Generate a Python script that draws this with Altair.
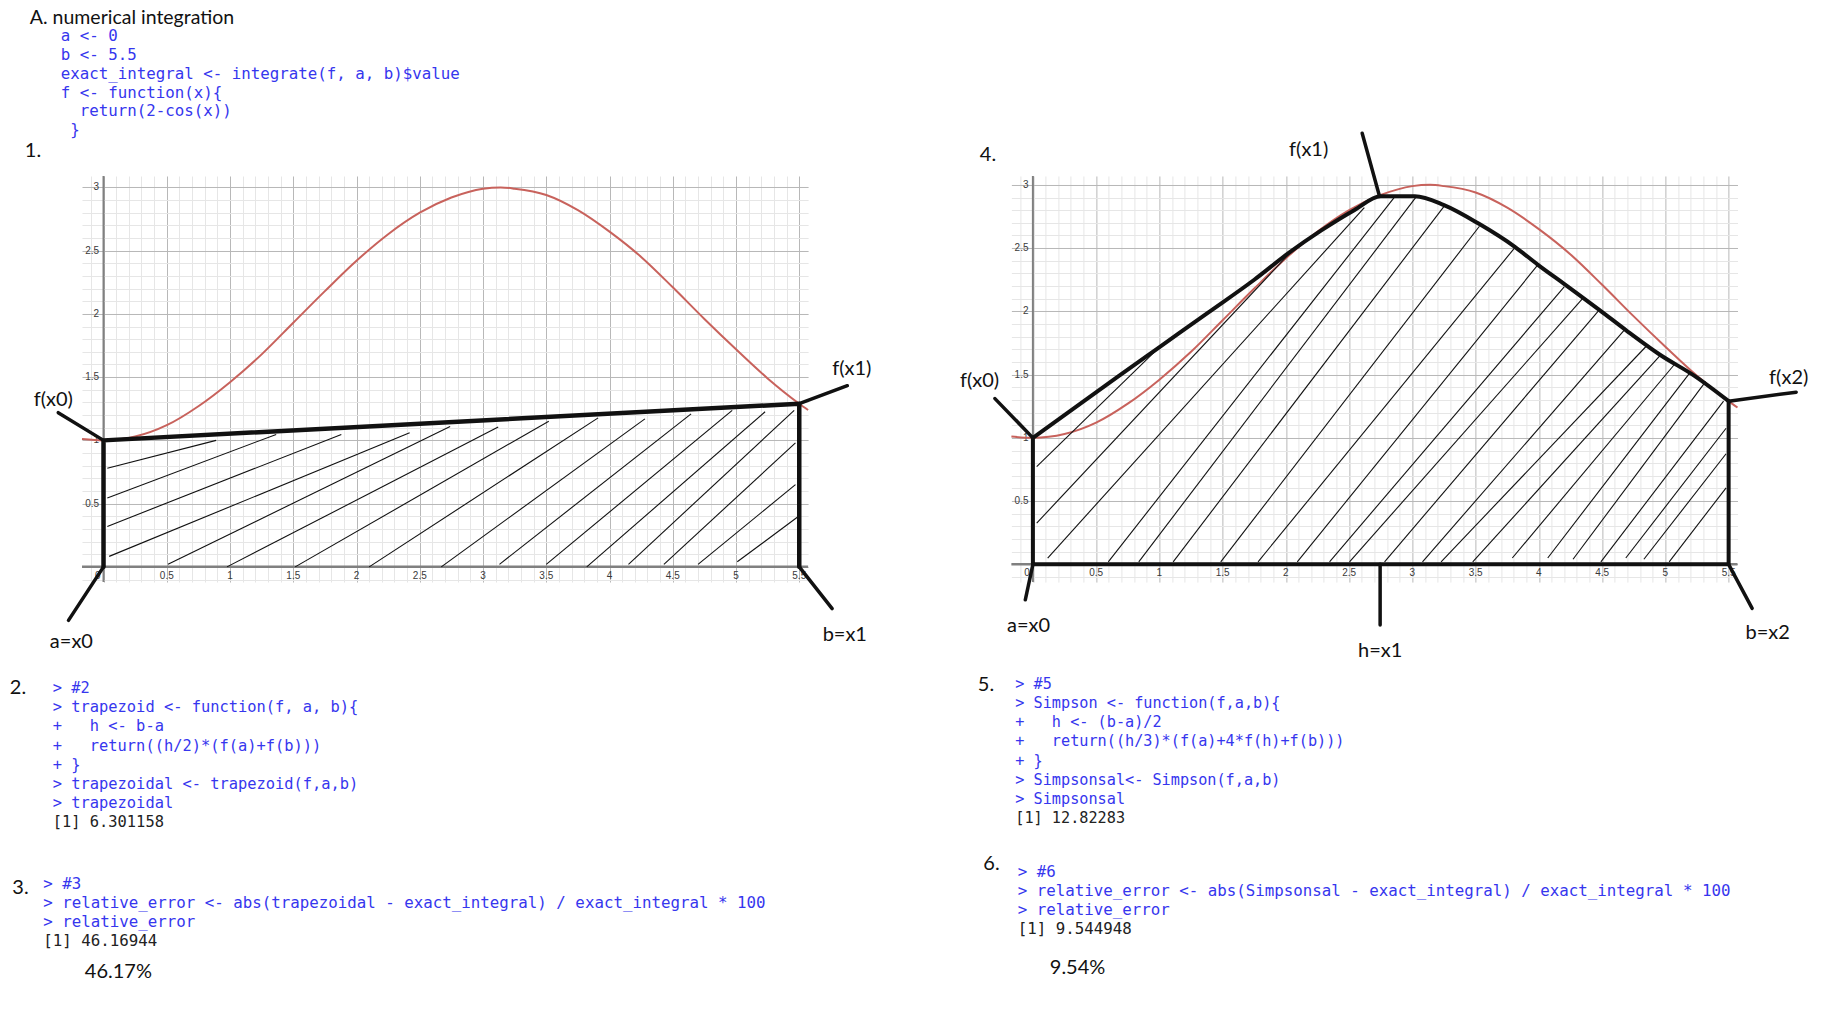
import altair as alt
import pandas as pd

# ---------------- values ----------------
# red curve, f(x) = 2 - cos(x)
F_X = [-0.17, 0.0, 0.25, 0.5, 0.75, 1.0, 1.25, 1.5, 1.75, 2.0, 2.25, 2.5, 2.75,
       3.0, 3.14, 3.25, 3.5, 3.75, 4.0, 4.25, 4.5, 4.75, 5.0, 5.25, 5.5, 5.57]
F_Y = [1.01, 1.0, 1.03, 1.12, 1.27, 1.46, 1.68, 1.93, 2.18, 2.42, 2.63, 2.80, 2.92,
       2.99, 3.0, 2.99, 2.94, 2.82, 2.65, 2.45, 2.21, 1.96, 1.72, 1.49, 1.29, 1.24]

# panel 1: trapezoid outline
TRAP_X = [0.0, 0.0, 5.5, 5.5]
TRAP_Y = [0.0, 1.0, 1.29, 0.0]

# panel 1: hand drawn hatch strokes
H1_X1 = [0.03, 0.03, 0.03, 0.045, 0.51, 0.976, 1.515, 2.1, 2.67, 3.13, 3.5, 3.82, 4.15, 4.43, 4.70, 5.01]
H1_Y1 = [0.78, 0.545, 0.32, 0.083, 0.02, 0.0, 0.0, 0.0, 0.0, 0.02, 0.02, 0.0, 0.02, 0.02, 0.02, 0.04]
H1_X2 = [0.89, 1.365, 1.88, 2.42, 2.74, 3.12, 3.52, 3.91, 4.28, 4.645, 4.97, 5.23, 5.46, 5.47, 5.47, 5.495]
H1_Y2 = [1.0, 1.047, 1.047, 1.06, 1.11, 1.105, 1.152, 1.178, 1.17, 1.21, 1.237, 1.226, 1.237, 0.98, 0.65, 0.40]

# panel 1: pointer strokes and their labels
P1_X1 = [0.0, 5.5, 0.0, 5.5]
P1_Y1 = [1.0, 1.29, 0.0, 0.0]
P1_X2 = [-0.358, 5.88, -0.277, 5.76]
P1_Y2 = [1.219, 1.432, -0.423, -0.33]
L1_TXT = ["f(x0)", "f(x1)", "a=x0", "b=x1"]
L1_X = [-0.397, 5.915, -0.254, 5.86]
L1_Y = [1.316, 1.565, -0.594, -0.536]

# panel 4: Simpson curve (hand drawn) and box
SIMP_X = [0.0, 0.68, 0.99, 1.385, 1.75, 2.02, 2.28, 2.54, 2.75, 3.02, 3.25, 3.53, 3.81,
          3.99, 4.21, 4.48, 4.69, 4.96, 5.23, 5.5]
SIMP_Y = [1.0, 1.49, 1.71, 1.99, 2.25, 2.46, 2.64, 2.80, 2.91, 2.91, 2.84, 2.69, 2.51,
          2.37, 2.21, 2.01, 1.85, 1.655, 1.49, 1.29]
BOX_X = [0.0, 0.0, 5.5, 5.5]
BOX_Y = [1.0, 0.0, 0.0, 1.29]

# panel 4: hatch strokes
H4_X1 = [0.03, 0.03, 0.117, 0.596, 0.837, 1.109, 1.485, 1.78, 2.09, 2.345, 2.503, 2.78,
         3.08, 3.227, 3.477, 3.79, 4.07, 4.27, 4.49, 4.687, 4.83, 5.03]
H4_Y1 = [0.773, 0.326, 0.05, 0.02, 0.02, 0.02, 0.02, 0.02, 0.02, 0.02, 0.02, 0.02,
         0.02, 0.02, 0.02, 0.05, 0.05, 0.04, 0.02, 0.05, 0.04, 0.02]
H4_X2 = [0.99, 2.04, 2.62, 2.86, 3.03, 3.25, 3.53, 3.81, 3.99, 4.2, 4.345, 4.476,
         4.687, 4.858, 4.963, 5.068, 5.19, 5.318, 5.46, 5.48, 5.48, 5.48]
H4_Y2 = [1.707, 2.47, 2.82, 2.905, 2.905, 2.83, 2.673, 2.504, 2.365, 2.194, 2.10, 2.01,
         1.865, 1.734, 1.655, 1.576, 1.51, 1.444, 1.29, 1.076, 0.874, 0.605]

# panel 4: pointers and labels
P4_X1 = [0.0, 2.74, 5.5, 0.0, 2.745, 5.5]
P4_Y1 = [1.0, 2.91, 1.29, 0.0, 0.0, 0.0]
P4_X2 = [-0.30, 2.603, 6.034, -0.06, 2.745, 5.686]
P4_Y2 = [1.31, 3.408, 1.361, -0.28, -0.48, -0.348]
L4_TXT = ["f(x0)", "f(x1)", "f(x2)", "a=x0", "h=x1", "b=x2"]
L4_X = [-0.422, 2.18, 5.975, -0.034, 2.746, 5.809]
L4_Y = [1.453, 3.279, 1.471, -0.485, -0.688, -0.540]

# graph paper ticks
XT = [0.5, 1, 1.5, 2, 2.5, 3, 3.5, 4, 4.5, 5, 5.5]
XT_LAB = ["0.5", "1", "1.5", "2", "2.5", "3", "3.5", "4", "4.5", "5", "5.5"]
YT = [0.5, 1, 1.5, 2, 2.5, 3]
YT_LAB = ["0.5", "1", "1.5", "2", "2.5", "3"]
GRID_X = [round(i / 10, 1) for i in range(-1, 56)]
GRID_Y = [round(i / 10, 1) for i in range(-1, 31)]

# text of the page
TITLE = "A. numerical integration"
CODE_A = ["a <- 0", "b <- 5.5", "exact_integral <- integrate(f, a, b)$value",
          "f <- function(x){", "  return(2-cos(x))", " }"]
CODE_2 = ["> #2", "> trapezoid <- function(f, a, b){", "+   h <- b-a",
          "+   return((h/2)*(f(a)+f(b)))", "+ }", "> trapezoidal <- trapezoid(f,a,b)",
          "> trapezoidal"]
OUT_2 = "[1] 6.301158"
CODE_3 = ["> #3", "> relative_error <- abs(trapezoidal - exact_integral) / exact_integral * 100",
          "> relative_error"]
OUT_3 = "[1] 46.16944"
CODE_5 = ["> #5", "> Simpson <- function(f,a,b){", "+   h <- (b-a)/2",
          "+   return((h/3)*(f(a)+4*f(h)+f(b)))", "+ }", "> Simpsonsal<- Simpson(f,a,b)",
          "> Simpsonsal"]
OUT_5 = "[1] 12.82283"
CODE_6 = ["> #6", "> relative_error <- abs(Simpsonsal - exact_integral) / exact_integral * 100",
          "> relative_error"]
OUT_6 = "[1] 9.544948"
PCT_3 = "46.17%"
PCT_6 = "9.54%"

# ---------------- layout ----------------
K = 126.5                      # pixels per unit on both axes
X_DOM = [-0.17, 5.57]
Y_DOM_1 = [-0.12, 3.09]
Y_DOM_4 = [-0.14, 3.07]
PW = round((X_DOM[1] - X_DOM[0]) * K, 2)
PH = round((Y_DOM_1[1] - Y_DOM_1[0]) * K, 2)
OX, OY = 81.2, 174.6           # page position of panel 1 plot area
GAP = 1009.7 - OX - PW

RED = "#c8625c"
INK = "#111111"
BLUE = "#3636ee"
OUT_INK = "#222222"
AXIS_GRAY = "#808080"
MONO = "DejaVu Sans Mono"
MONO_ADV = 0.602               # advance of one mono glyph, in em
SANS = "Lato"

GRID_COLOR = {"condition": {"test": "abs(datum.value * 2 - round(datum.value * 2)) < 0.01",
                            "value": "#b8b8b8"},
              "value": "#e6e6e6"}


def encoders(ydom):
    xs = alt.Scale(domain=X_DOM, nice=False, zero=False)
    ys = alt.Scale(domain=ydom, nice=False, zero=False)
    ax = alt.Axis(values=GRID_X, grid=True, gridColor=GRID_COLOR, gridWidth=1,
                  labels=False, ticks=False, domain=False, title="")
    ay = alt.Axis(values=GRID_Y, grid=True, gridColor=GRID_COLOR, gridWidth=1,
                  labels=False, ticks=False, domain=False, title="")

    def X(f):
        return alt.X(f, type="quantitative", scale=xs, axis=ax)

    def Y(f):
        return alt.Y(f, type="quantitative", scale=ys, axis=ay)
    return X, Y


def paper(X, Y, lab_y):
    one = pd.DataFrame({"v": [0.0]})
    yaxis = alt.Chart(one).mark_rule(color=AXIS_GRAY, strokeWidth=2).encode(x=X("v"))
    xaxis = alt.Chart(one).mark_rule(color=AXIS_GRAY, strokeWidth=2.5).encode(y=Y("v"))
    tick_style = dict(font="Liberation Sans", fontSize=10, color="#3a3a3a", baseline="middle")
    xlab = alt.Chart(pd.DataFrame({"v": XT, "t": XT_LAB})).transform_calculate(
        y=str(lab_y)).mark_text(align="center", **tick_style).encode(
        x=X("v"), y=Y("y"), text="t:N")
    zero = alt.Chart(pd.DataFrame({"v": [0.0], "t": ["0"]})).transform_calculate(
        y=str(lab_y)).mark_text(align="right", dx=-3, **tick_style).encode(
        x=X("v"), y=Y("y"), text="t:N")
    ylab = alt.Chart(pd.DataFrame({"v": YT, "t": YT_LAB})).transform_calculate(
        x="-0.035").mark_text(align="right", **tick_style).encode(
        x=X("x"), y=Y("v"), text="t:N")
    curve = alt.Chart(pd.DataFrame({"x": F_X, "y": F_Y})).mark_line(
        color=RED, strokeWidth=2, interpolate="monotone").encode(x=X("x"), y=Y("y"))
    return [yaxis, xaxis, xlab, zero, ylab, curve]


def segments(X, Y, x1, y1, x2, y2, width, cap="butt"):
    df = pd.DataFrame({"x1": x1, "y1": y1, "x2": x2, "y2": y2})
    return alt.Chart(df).mark_rule(color=INK, strokeWidth=width, strokeCap=cap).encode(
        x=X("x1"), y=Y("y1"), x2="x2", y2="y2")


def polyline(X, Y, xs, ys, width, interp="linear"):
    df = pd.DataFrame({"x": xs, "y": ys, "i": list(range(len(xs)))})
    return alt.Chart(df).mark_line(color=INK, strokeWidth=width, interpolate=interp,
                                   strokeJoin="round", strokeCap="round").encode(
        x=X("x"), y=Y("y"), order="i:Q")


def labels(X, Y, txt, xs, ys):
    df = pd.DataFrame({"t": txt, "x": xs, "y": ys})
    return alt.Chart(df).mark_text(font=SANS, fontSize=20, color=INK, align="center",
                                   baseline="middle").encode(
        x=X("x"), y=Y("y"), text="t:N")


def page_text(s, x, y, size, color, font=SANS):
    # one line of text, placed by its page position (left edge, baseline)
    return alt.Chart(pd.DataFrame({"t": [s.replace(" ", "\u00a0")]})).mark_text(
        align="left", baseline="alphabetic", font=font, fontSize=size, color=color).encode(
        x=alt.value(round(x - OX, 1)), y=alt.value(round(y - OY, 1)), text="t:N")


def code_block(lines, x, y, size, lh, out=None):
    marks = []
    for i, s in enumerate(lines):
        indent = len(s) - len(s.lstrip(" "))
        marks.append(page_text(s.lstrip(" "), x + indent * MONO_ADV * size, y + i * lh,
                               size, BLUE, font=MONO))
    if out is not None:
        marks.append(page_text(out, x, y + len(lines) * lh, size, OUT_INK, font=MONO))
    return marks


# ---------------- panel 1 : trapezoid ----------------
X1, Y1 = encoders(Y_DOM_1)
# a one pixel white corner pins the page's top-left at the body margin
corner = alt.Chart(pd.DataFrame({"a": [0]})).mark_rect(color="white").encode(
    x=alt.value(8 - OX), x2=alt.value(9 - OX), y=alt.value(8 - OY), y2=alt.value(9 - OY))

texts = [
    page_text(TITLE, 29, 23, 19.5, INK),
    *code_block(CODE_A, 60, 39.5, 15.8, 18.9),
    page_text("1.", 24, 156, 20, INK),
    page_text("4.", 979, 160, 20, INK),
    page_text("2.", 9, 693, 20, INK),
    *code_block(CODE_2, 52, 692, 15.4, 19.07, OUT_2),
    page_text("3.", 11.5, 893, 20, INK),
    *code_block(CODE_3, 42.5, 888, 15.8, 19.0, OUT_3),
    page_text(PCT_3, 84, 977, 20, INK),
    page_text("5.", 977, 689.5, 20, INK),
    *code_block(CODE_5, 1014.5, 688, 15.2, 19.04, OUT_5),
    page_text("6.", 982.5, 869, 20, INK),
    *code_block(CODE_6, 1017, 875.5, 15.8, 19.2, OUT_6),
    page_text(PCT_6, 1049, 973, 20, INK),
]

panel1 = alt.layer(
    corner,
    *paper(X1, Y1, -0.075),
    segments(X1, Y1, H1_X1, H1_Y1, H1_X2, H1_Y2, 1.1),
    polyline(X1, Y1, TRAP_X, TRAP_Y, 4.5),
    segments(X1, Y1, P1_X1, P1_Y1, P1_X2, P1_Y2, 3.5, cap="round"),
    labels(X1, Y1, L1_TXT, L1_X, L1_Y),
    *texts,
).properties(width=PW, height=PH)

# ---------------- panel 4 : Simpson ----------------
X4, Y4 = encoders(Y_DOM_4)
panel4 = alt.layer(
    *paper(X4, Y4, -0.065),
    segments(X4, Y4, H4_X1, H4_Y1, H4_X2, H4_Y2, 1.1),
    polyline(X4, Y4, BOX_X, BOX_Y, 4),
    polyline(X4, Y4, SIMP_X, SIMP_Y, 4, interp="monotone"),
    segments(X4, Y4, P4_X1, P4_Y1, P4_X2, P4_Y2, 3.5, cap="round"),
    labels(X4, Y4, L4_TXT, L4_X, L4_Y),
).properties(width=PW, height=PH)

chart = alt.hconcat(panel1, panel4, spacing=GAP, bounds="flush").properties(
    padding=0
).configure_view(strokeWidth=0)

chart.save("out.html", embed_options={"renderer": "svg", "actions": False})
